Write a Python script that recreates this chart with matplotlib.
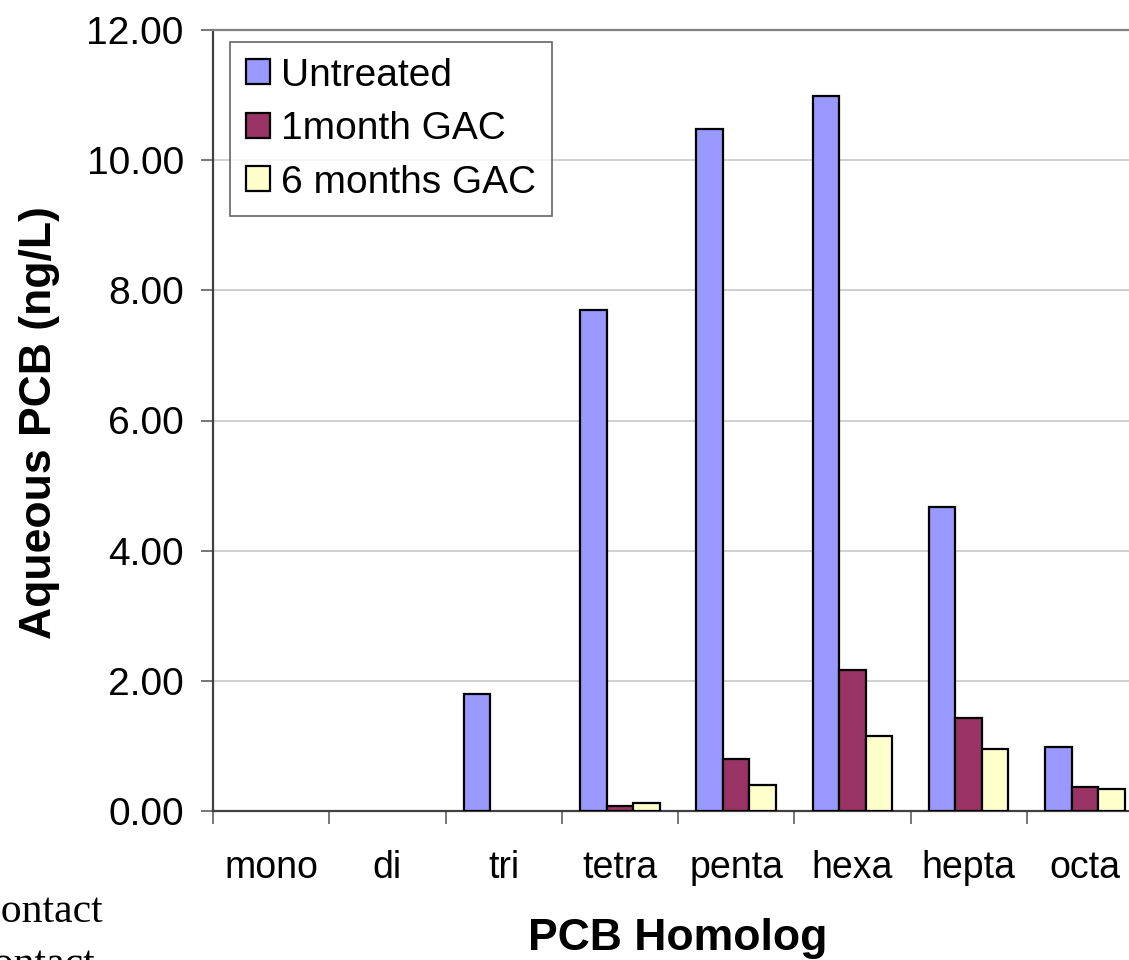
import numpy as np
import matplotlib.pyplot as plt

plt.rcParams['font.family'] = ['Liberation Sans', 'DejaVu Sans']

homologs = ['mono', 'di', 'tri', 'tetra', 'penta', 'hexa', 'hepta', 'octa']
untreated = [0, 0, 1.80, 7.70, 10.48, 10.98, 4.67, 0.98]
one_month = [0, 0, 0, 0.07, 0.80, 2.17, 1.43, 0.37]
six_months = [0, 0, 0, 0.12, 0.40, 1.16, 0.95, 0.34]

series = [('Untreated', untreated, '#9999FF'),
          ('1month GAC', one_month, '#993366'),
          ('6 months GAC', six_months, '#FFFFCC')]

fig = plt.figure(figsize=(11.29, 9.6), dpi=100)
ax = fig.add_axes([213/1129, 149/960, 930/1129, 781/960])

x = np.arange(len(homologs))
w = 0.228
for i, (name, vals, col) in enumerate(series):
    vals = np.array(vals)
    lw = np.where(vals > 0, 1.6, 0)
    ax.bar(x + (i - 1) * w, vals, w, color=col, edgecolor='black',
           linewidth=lw, label=name, zorder=3)

ax.set_xlim(-0.5, len(homologs) - 0.5)
ax.set_ylim(0, 12)
ax.set_yticks(np.arange(0, 13, 2))
ax.set_yticklabels(['%.2f' % v for v in np.arange(0, 13, 2)])
ax.yaxis.grid(True, color='#c8c8c8', linewidth=1.2, zorder=0)
ax.set_axisbelow(True)

# category labels sit between boundary ticks
ax.set_xticks(x)
ax.set_xticklabels(homologs)
ax.set_xticks(np.arange(-0.5, len(homologs), 1), minor=True)
ax.tick_params(axis='x', which='major', length=0, pad=28, labelsize=27)
ax.tick_params(axis='x', which='minor', length=9, width=1.2, color='#606060')
ax.tick_params(axis='y', length=9, width=1.2, color='#606060', pad=12, labelsize=28)

for s in ['left', 'bottom']:
    ax.spines[s].set_color('#404040')
    ax.spines[s].set_linewidth(1.6)
ax.spines['top'].set_color('#808080')
ax.spines['top'].set_linewidth(1.6)
ax.spines['right'].set_visible(False)

fig.text(40/1129, 1 - 423/960, 'Aqueous PCB (ng/L)', rotation=90,
         ha='center', va='center', fontsize=32, fontweight='bold')
fig.text(678/1129, 1 - 950/960, 'PCB Homolog', ha='center', va='baseline',
         fontsize=32, fontweight='bold')

leg = ax.legend(loc='upper left', bbox_to_anchor=(230/1129, 1 - 42/960),
                bbox_transform=fig.transFigure, borderaxespad=0, fontsize=28,
                frameon=True, fancybox=False, handlelength=0.62,
                handleheight=0.62, handletextpad=0.3, labelspacing=0.45,
                borderpad=0.4)
leg.get_frame().set_edgecolor('#404040')
leg.get_frame().set_linewidth(1.2)
for h in leg.legend_handles:
    h.set_linewidth(1.6)

# text from a neighbouring figure caption, clipped at the left edge
fig.text(-27/1129, 1 - 922/960, 'Contact', family='Liberation Serif',
         fontsize=30, va='baseline')
fig.text(-35/1129, 1 - 975/960, 'Contact', family='Liberation Serif',
         fontsize=30, va='baseline')

fig.savefig('out.png', dpi=100)
